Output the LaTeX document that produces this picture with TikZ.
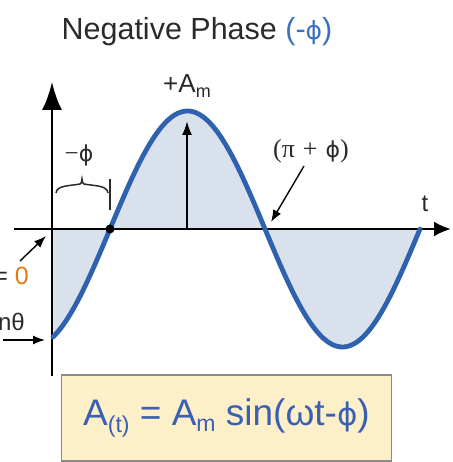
\documentclass[tikz,border=0pt]{standalone}
\usepackage{fontspec}
\setmainfont{Liberation Sans}
\newfontfamily\serifx{Liberation Serif}
\newfontfamily\djv{DejaVu Sans}
\usetikzlibrary{arrows.meta}
\definecolor{curveblue}{HTML}{2F62AE}
\definecolor{fillblue}{HTML}{D9E1EC}
\definecolor{titleblue}{HTML}{3C6FC0}
\definecolor{txtgray}{HTML}{2A2A2A}
\definecolor{boxfill}{HTML}{FDF0C8}
\definecolor{boxedge}{HTML}{8A8A8A}
\definecolor{orangex}{HTML}{E07B10}
\definecolor{formblue}{HTML}{3A5FB4}
\tikzset{
  axis/.style={line width=2.6pt, -{Latex[length=17pt,width=15pt]}},
  yaxis/.style={line width=2.6pt, -{Latex[length=28pt,width=20pt]}},
  thinarrow/.style={line width=1.4pt, -{Latex[length=12pt,width=9pt]}},
  lbl/.style={inner sep=0pt, text=txtgray},
}
\begin{document}
\begin{tikzpicture}[x=1pt,y=-1pt]
\useasboundingbox (0,0) rectangle (452,462);
\begin{scope}
\clip (0,0) rectangle (452,462);
% fill under curve
\fill[fillblue] (53,229) -- plot[domain=53:420,samples=120] (\x,{229-118*sin((\x-110)*1.16129)}) -- (420,229) -- cycle;
% axes
\coordinate (xs) at (14,229);
\coordinate (xe) at (451,229);
\coordinate (ys) at (52,376);
\coordinate (ye) at (52,82);
\draw[axis] (xs) -- (xe);
\draw[yaxis] (ys) -- (ye);
% curve
\draw[curveblue, line width=4.8pt, line cap=round] plot[domain=53:420,samples=160] (\x,{229-118*sin((\x-110)*1.16129)});
% zero crossing dot
\node[circle, fill=black, inner sep=0pt, minimum size=9pt] (z0) at (110,229) {};
% amplitude arrow
\coordinate (ab) at (187,229);
\coordinate (at) at (187,121);
\draw[line width=2.2pt, -{Latex[length=14pt,width=10pt]}] (ab) -- (at);
\node[lbl, font=\fontsize{26}{26}\selectfont] (am) at (187,86) {+A\raisebox{-0.35ex}{\fontsize{18}{18}\selectfont m}};
% title
\node[lbl, font=\fontsize{30.5}{30.5}\selectfont] (title) at (197,32) {Negative Phase \textcolor{titleblue}{(-{\djv\fontsize{25}{25}\selectfont ϕ})}};
% -phi label and brace
\node[lbl, font=\serifx\fontsize{25}{25}\selectfont] (mphi) at (79,155) {−{\djv\fontsize{22}{22}\selectfont ϕ}};
\draw[line width=1.5pt, txtgray] (56,193) .. controls (57,185) and (70,186) .. (80,184) .. controls (81,184) and (82,182) .. (82,179) .. controls (82,182) and (83,184) .. (84,184) .. controls (94,186) and (107,185) .. (108,193);
\coordinate (tk1) at (110,179);
\coordinate (tk2) at (110,210);
\draw[line width=1.5pt, txtgray] (tk1) -- (tk2);
% (pi+phi) label
\node[lbl, font=\serifx\fontsize{26}{26}\selectfont] (ppp) at (311,151) {(π\hspace{8pt}+\hspace{8pt}{\djv\fontsize{22}{22}\selectfont ϕ})};
\coordinate (pa) at (304,166);
\coordinate (pb) at (271,222);
\draw[thinarrow] (pa) -- (pb);
% t label
\node[lbl, font=\fontsize{24}{24}\selectfont] (tl) at (425,204) {t};
% left labels
\node[lbl, font=\fontsize{25}{25}\selectfont, anchor=east] (eq0) at (29,276) {= \textcolor{orangex}{0}};
\coordinate (a1) at (20,261);
\coordinate (a2) at (46,236);
\draw[thinarrow] (a1) -- (a2);
\node[lbl, font=\fontsize{24}{24}\selectfont, anchor=east] (nth) at (25,322) {nθ};
\coordinate (b1) at (3,340);
\coordinate (b2) at (45,340);
\draw[thinarrow] (b1) -- (b2);
% formula box
\node[draw=boxedge, fill=boxfill, line width=1.6pt, minimum width=330pt, minimum height=86pt, inner sep=0pt, text=formblue, font=\fontsize{37}{37}\selectfont] (box) at (226.5,418) {A\raisebox{-0.4ex}{\fontsize{23}{23}\selectfont (t)} = A\raisebox{-0.35ex}{\fontsize{23}{23}\selectfont m} sin(ωt-{\djv\fontsize{31}{31}\selectfont ϕ})};
\end{scope}
\end{tikzpicture}
\end{document}
